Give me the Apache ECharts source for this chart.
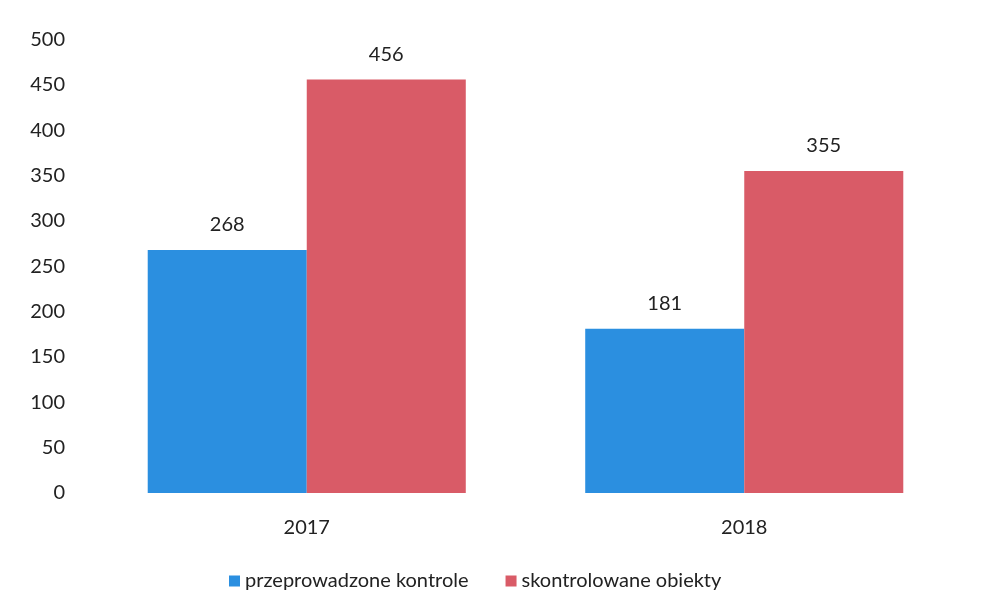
<!DOCTYPE html>
<html><head><meta charset="utf-8">
<script src="https://cdn.jsdelivr.net/npm/echarts@6/dist/echarts.min.js"></script>
<style>html,body{margin:0;padding:0;background:#fff}#c{width:981px;height:610px}</style>
</head><body><div id="c"></div>
<script>
const categories = ['2017', '2018'];
const seriesNames = ['przeprowadzone kontrole', 'skontrolowane obiekty'];
const kontrole = [268, 181];
const obiekty = [456, 355];
const yTicks = [0, 50, 100, 150, 200, 250, 300, 350, 400, 450, 500];

const FONT = 'Lato';
const FS = 20;
const chart = echarts.init(document.getElementById('c'));
chart.setOption({
  animation: false,
  textStyle: { fontFamily: FONT },
  grid: { left: 88, right: 18, top: 39.5, bottom: 117, containLabel: false },
  legend: {
    bottom: 14, left: 224,
    itemWidth: 11, itemHeight: 11, itemGap: 37,
    icon: 'rect',
    textStyle: { fontSize: FS, color: '#222', fontFamily: FONT, padding: [0, 0, 0, 0] },
    data: seriesNames
  },
  xAxis: {
    type: 'category', data: categories,
    axisLine: { show: false }, axisTick: { show: false },
    axisLabel: { fontSize: FS, color: '#222', margin: 25, fontFamily: FONT }
  },
  yAxis: {
    type: 'value', min: yTicks[0], max: yTicks[yTicks.length - 1], interval: 50,
    axisLine: { show: false }, axisTick: { show: false },
    splitLine: { show: false },
    axisLabel: { fontSize: FS, color: '#222', margin: 23, fontFamily: FONT }
  },
  series: [
    {
      name: seriesNames[0], type: 'bar', data: kontrole,
      barGap: '0%', barCategoryGap: '27.3%',
      itemStyle: { color: '#2b8fe0' },
      label: { show: true, position: 'top', distance: 15, fontSize: FS, color: '#222', fontFamily: FONT }
    },
    {
      name: seriesNames[1], type: 'bar', data: obiekty,
      barGap: '0%', barCategoryGap: '27.3%',
      itemStyle: { color: '#d95b67' },
      label: { show: true, position: 'top', distance: 15, fontSize: FS, color: '#222', fontFamily: FONT }
    }
  ]
});
</script></body></html>
